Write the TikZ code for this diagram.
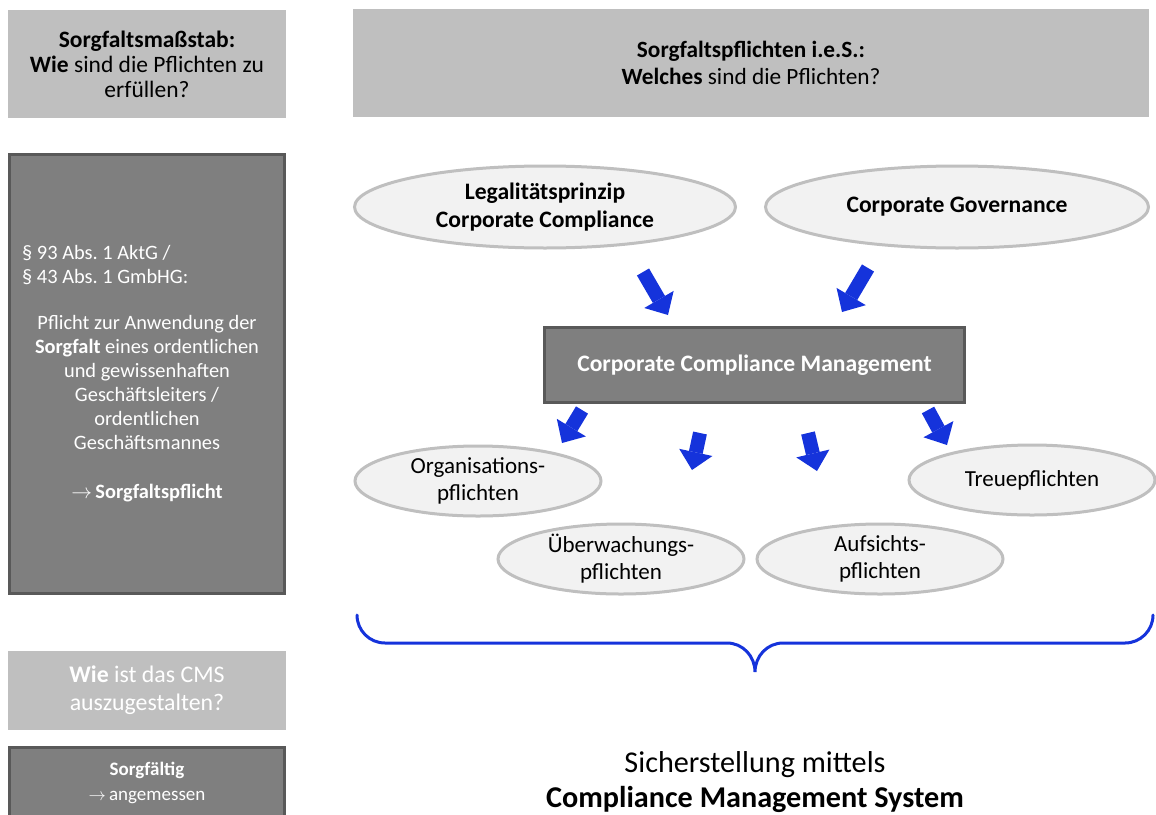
\documentclass[tikz,border=0pt]{standalone}
\usepackage{fontspec}
\setmainfont{Carlito}
\usepackage{tikz}
\usetikzlibrary{shapes.geometric,arrows.meta}

\definecolor{hellgrau}{HTML}{BFBFBF}
\definecolor{dunkelgrau}{HTML}{7F7F7F}
\definecolor{rahmengrau}{HTML}{595959}
\definecolor{ellipsengrau}{HTML}{F2F2F2}
\definecolor{pfeilblau}{HTML}{1533DB}

\tikzset{
	hellbox/.style={rectangle, fill=hellgrau, inner sep=0pt, align=center},
	dunkelbox/.style={rectangle, fill=dunkelgrau, draw=rahmengrau, line width=3pt, inner sep=0pt, text=white, align=center},
	pflicht/.style={ellipse, fill=ellipsengrau, draw=hellgrau, line width=3pt, inner sep=-8pt, align=center, minimum width=246pt, minimum height=70pt, font=\fontsize{23}{27}\selectfont},
	blockpfeil/.style={draw=pfeilblau, line width=14pt, -{Triangle[length=18pt,width=34pt,line width=0pt]}},
	klammer/.style={draw=pfeilblau, line width=3pt, line cap=round},
}

\begin{document}
\begin{tikzpicture}[x=1pt,y=-1pt]
	\useasboundingbox (0,0) rectangle (1156,814);
	\node[hellbox, minimum width=278pt, minimum height=108pt, font=\fontsize{23.5}{25}\selectfont] (massstab) at (147,64) {\textbf{Sorgfaltsmaßstab:}\\\textbf{Wie} sind die Pflichten zu\\erfüllen?};
	\node[hellbox, minimum width=796pt, minimum height=108pt, font=\fontsize{23.3}{27}\selectfont] (iesS) at (751,63) {\textbf{Sorgfaltspflichten i.e.S.:}\\\textbf{Welches} sind die Pflichten?};
	\node[dunkelbox, minimum width=275pt, minimum height=439pt] (gesetz) at (147,374) {};
	\node[anchor=west, inner sep=0pt, align=flush left, text=white, font=\fontsize{20.4}{24}\selectfont] (paragraf) at (22,265) {\S~93 Abs.~1 AktG /\\\S~43 Abs.~1 GmbHG:};
	\node[inner sep=0pt, align=flush center, text=white, font=\fontsize{20.4}{24}\selectfont] (sorgfalt) at (147,409) {Pflicht zur Anwendung der\\
		\textbf{Sorgfalt} eines ordentlichen\\
		und gewissenhaften\\
		Geschäftsleiters /\\
		ordentlichen\\
		Geschäftsmannes\\[25pt]
		$\rightarrow$\,\textbf{Sorgfaltspflicht}};

	\node[pflicht, minimum width=381pt, minimum height=82pt, font=\bfseries\fontsize{23.6}{28}\selectfont] (legal) at (545,207) {Legalitätsprinzip\\Corporate Compliance};
	\node[pflicht, minimum width=383pt, minimum height=82pt, font=\bfseries\fontsize{23.6}{28}\selectfont] (governance) at (957,207) {Corporate Governance};
	\node[dunkelbox, minimum width=420pt, minimum height=75pt, font=\bfseries\fontsize{23.6}{28}\selectfont] (ccm) at (754.5,365) {Corporate Compliance Management};

	\node[pflicht] (organisation) at (478,481) {Organisations-\\pflichten};
	\node[pflicht] (ueberwachung) at (621,559) {Überwachungs-\\pflichten};
	\node[pflicht] (aufsicht) at (880,559) {Aufsichts-\\pflichten};
	\node[pflicht] (treue) at (1032,480) {Treuepflichten};

	\coordinate (p1a) at (643,272); \coordinate (p1b) at (668,315);
	\coordinate (p2a) at (868,268); \coordinate (p2b) at (842,312);
	\coordinate (p3a) at (582,410); \coordinate (p3b) at (562,443);
	\coordinate (p4a) at (700,433); \coordinate (p4b) at (692,470);
	\coordinate (p5a) at (808,433); \coordinate (p5b) at (817,471);
	\coordinate (p6a) at (928,410); \coordinate (p6b) at (947,445);
	\draw[blockpfeil] (p1a) -- (p1b);
	\draw[blockpfeil] (p2a) -- (p2b);
	\draw[blockpfeil] (p3a) -- (p3b);
	\draw[blockpfeil] (p4a) -- (p4b);
	\draw[blockpfeil] (p5a) -- (p5b);
	\draw[blockpfeil] (p6a) -- (p6b);

	\draw[klammer] (357,615) to[out=-90,in=180] (385,643) -- (727,643) to[out=0,in=90] (755,672) to[out=90,in=180] (783,643) -- (1125,643) to[out=0,in=-90] (1153,615);

	\node[hellbox, text=white, minimum width=278pt, minimum height=79pt, font=\fontsize{23.8}{28}\selectfont] (cmsfrage) at (147,690.5) {\textbf{Wie} ist das CMS\\auszugestalten?};
	\node[dunkelbox, minimum width=275pt, minimum height=72pt, font=\fontsize{19}{25}\selectfont] (sorgfaeltig) at (147,783) {\textbf{Sorgfältig}\\$\rightarrow$\,angemessen};
	\node[align=center, inner sep=0pt, font=\fontsize{30.2}{35}\selectfont] (system) at (755,782.5) {Sicherstellung mittels\\\textbf{Compliance Management System}};
\end{tikzpicture}
\end{document}
